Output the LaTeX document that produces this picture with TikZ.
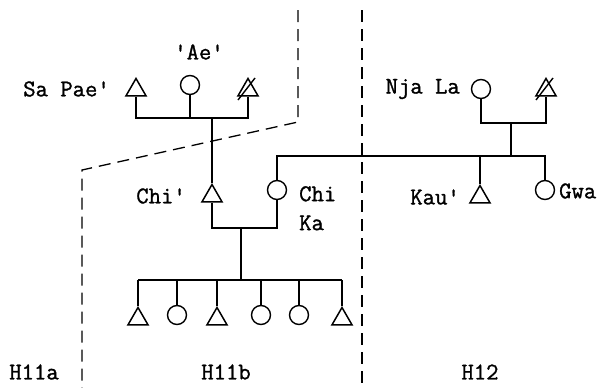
\documentclass[tikz,border=0pt]{standalone}
\usepackage{fontspec}
\newfontfamily\twfont{Latin Modern Mono}[FakeBold=1.2]
\usetikzlibrary{shapes.geometric}
\begin{document}
\begin{tikzpicture}[x=1pt,y=-1pt,
  male/.style={regular polygon, regular polygon sides=3, draw, minimum size=23pt, inner sep=0pt, anchor=north, line width=1.5pt},
  female/.style={circle, draw, minimum size=19pt, inner sep=0pt, line width=1.4pt},
  lbl/.style={font=\twfont\fontsize{24}{29}\selectfont, inner sep=0pt},
  border/.style={dash pattern=on 12pt off 7pt, line width=1.3pt},
  kin/.style={line width=1.6pt},
  slash/.style={line width=1.4pt}
]
\useasboundingbox (0,0) rectangle (598,388);
% region borders
\draw[border] (298,10) -- (298,122) -- (82,170) -- (82,388);
\draw[border] (362,10) -- (362,388);
% persons
\node[male] (sp) at (136,77) {};
\node[female] (ae) at (190,85) {};
\node[male] (x1) at (248,77) {};
\node[male] (chi) at (212,183) {};
\node[female] (chika) at (277,190) {};
\node[female] (nja) at (481,89) {};
\node[male] (x2) at (546,77) {};
\node[male] (kau) at (480,184) {};
\node[female] (gwa) at (545,190) {};
\node[male] (k1) at (138,306) {};
\node[female] (k2) at (177,315) {};
\node[male] (k3) at (217,306) {};
\node[female] (k4) at (261,315) {};
\node[female] (k5) at (299,315) {};
\node[male] (k6) at (342,306) {};
% slashes (deceased)
\draw[slash] ([shift={(-10,10)}]x1.center) -- ([shift={(7,-12)}]x1.center);
\draw[slash] ([shift={(-10,10)}]x2.center) -- ([shift={(7,-12)}]x2.center);
% labels
\node[lbl, anchor=east] (lsp) at (110,89) {Sa Pae\textquotesingle};
\node[lbl] (lae) at (199,52) {\textquotesingle Ae\textquotesingle};
\node[lbl, anchor=east] (lchi) at (186,196) {Chi\textquotesingle};
\node[lbl, anchor=north west, align=left] (lchika) at (299,186) {Chi\\Ka};
\node[lbl, anchor=east] (lnja) at (460,89) {Nja La};
\node[lbl, anchor=east] (lkau) at (460,197) {Kau\textquotesingle};
\node[lbl, anchor=west] (lgwa) at (559,191) {Gwa};
\node[lbl] (h1) at (34,372) {H11a};
\node[lbl] (h2) at (226,372) {H11b};
\node[lbl] (h3) at (480,372) {H12};
% sibling group top
\coordinate (top) at (212,118);
\draw[kin] (sp.south) -- (sp.south |- top) -- (x1.south |- top) -- (x1.south);
\draw[kin] (ae.south) -- (ae.south |- top);
\draw[kin] (top) -- (chi.north);
% Chi' + Chi Ka
\coordinate (c2) at (241,228);
\coordinate (c2b) at (241,280);
\draw[kin] (chi.south) -- (chi.south |- c2) -- (chika.south |- c2) -- (chika.south);
\draw[kin] (c2) -- (c2b);
\draw[kin] (k1.north |- c2b) -- (k6.north |- c2b);
\foreach \k in {k1,k2,k3,k4,k5,k6} \draw[kin] (\k.north |- c2b) -- (\k.north);
% Nja La group
\coordinate (c3) at (511,123);
\coordinate (link) at (511,156);
\draw[kin] (nja.south) -- (nja.south |- c3) -- (x2.south |- c3) -- (x2.south);
\draw[kin] (c3) -- (link);
\draw[kin] (chika.north) -- (chika.north |- link) -- (gwa.north |- link) -- (gwa.north);
\draw[kin] (kau.north |- link) -- (kau.north);
\end{tikzpicture}
\end{document}
